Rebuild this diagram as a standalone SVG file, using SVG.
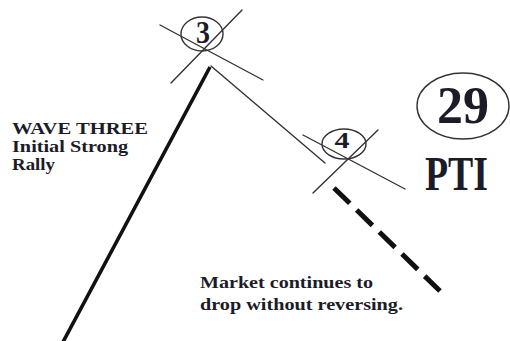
<svg xmlns="http://www.w3.org/2000/svg" width="510" height="341" viewBox="0 0 510 341">
<style>
.t{font-family:'Liberation Serif','DejaVu Serif','Times New Roman',serif;font-weight:700;fill:#1c1c28}
.thin{stroke:#333;stroke-width:1.4;fill:none;stroke-linecap:round}
.ring{stroke:#333;stroke-width:1.4;fill:none}
</style>
<rect width="510" height="341" fill="#fff"/>
<g id="connectors">
<line x1="63" y1="342" x2="210" y2="67" stroke="#111" stroke-width="3.6"/>
<line class="thin" x1="211" y1="66" x2="325" y2="163"/>
<line x1="334" y1="188" x2="440" y2="291" stroke="#111" stroke-width="5" stroke-dasharray="22 9.6"/>
</g>
<g id="pivot3">
<line class="thin" x1="160" y1="25" x2="263" y2="80"/>
<line class="thin" x1="242" y1="10" x2="171" y2="83"/>
<ellipse class="ring" cx="202" cy="34" rx="21" ry="17"/>
<text class="t" x="203" y="43" font-size="32" text-anchor="middle" textLength="14" lengthAdjust="spacingAndGlyphs">3</text>
</g>
<g id="pivot4">
<line class="thin" x1="303" y1="135" x2="405" y2="189"/>
<line class="thin" x1="378" y1="130" x2="313" y2="193"/>
<ellipse class="ring" cx="344" cy="144" rx="22" ry="15"/>
<text class="t" x="342" y="148" font-size="23" text-anchor="middle" textLength="15" lengthAdjust="spacingAndGlyphs">4</text>
</g>
<g id="badge">
<ellipse class="ring" cx="463" cy="106" rx="46" ry="33"/>
<text class="t" x="463" y="123" font-size="52" text-anchor="middle">29</text>
<text class="t" x="425" y="190" font-size="48" textLength="63" lengthAdjust="spacingAndGlyphs">PTI</text>
</g>
<g id="label-wave">
<text class="t" x="12" y="134" font-size="16.5" textLength="136" lengthAdjust="spacingAndGlyphs">WAVE THREE</text>
<text class="t" x="12" y="152" font-size="16.5" textLength="116" lengthAdjust="spacingAndGlyphs">Initial Strong</text>
<text class="t" x="12" y="170" font-size="16.5" textLength="43" lengthAdjust="spacingAndGlyphs">Rally</text>
</g>
<g id="label-market">
<text class="t" x="200" y="288" font-size="17" textLength="173" lengthAdjust="spacingAndGlyphs">Market continues to</text>
<text class="t" x="200" y="310" font-size="17" textLength="203" lengthAdjust="spacingAndGlyphs">drop without reversing.</text>
</g>
</svg>
